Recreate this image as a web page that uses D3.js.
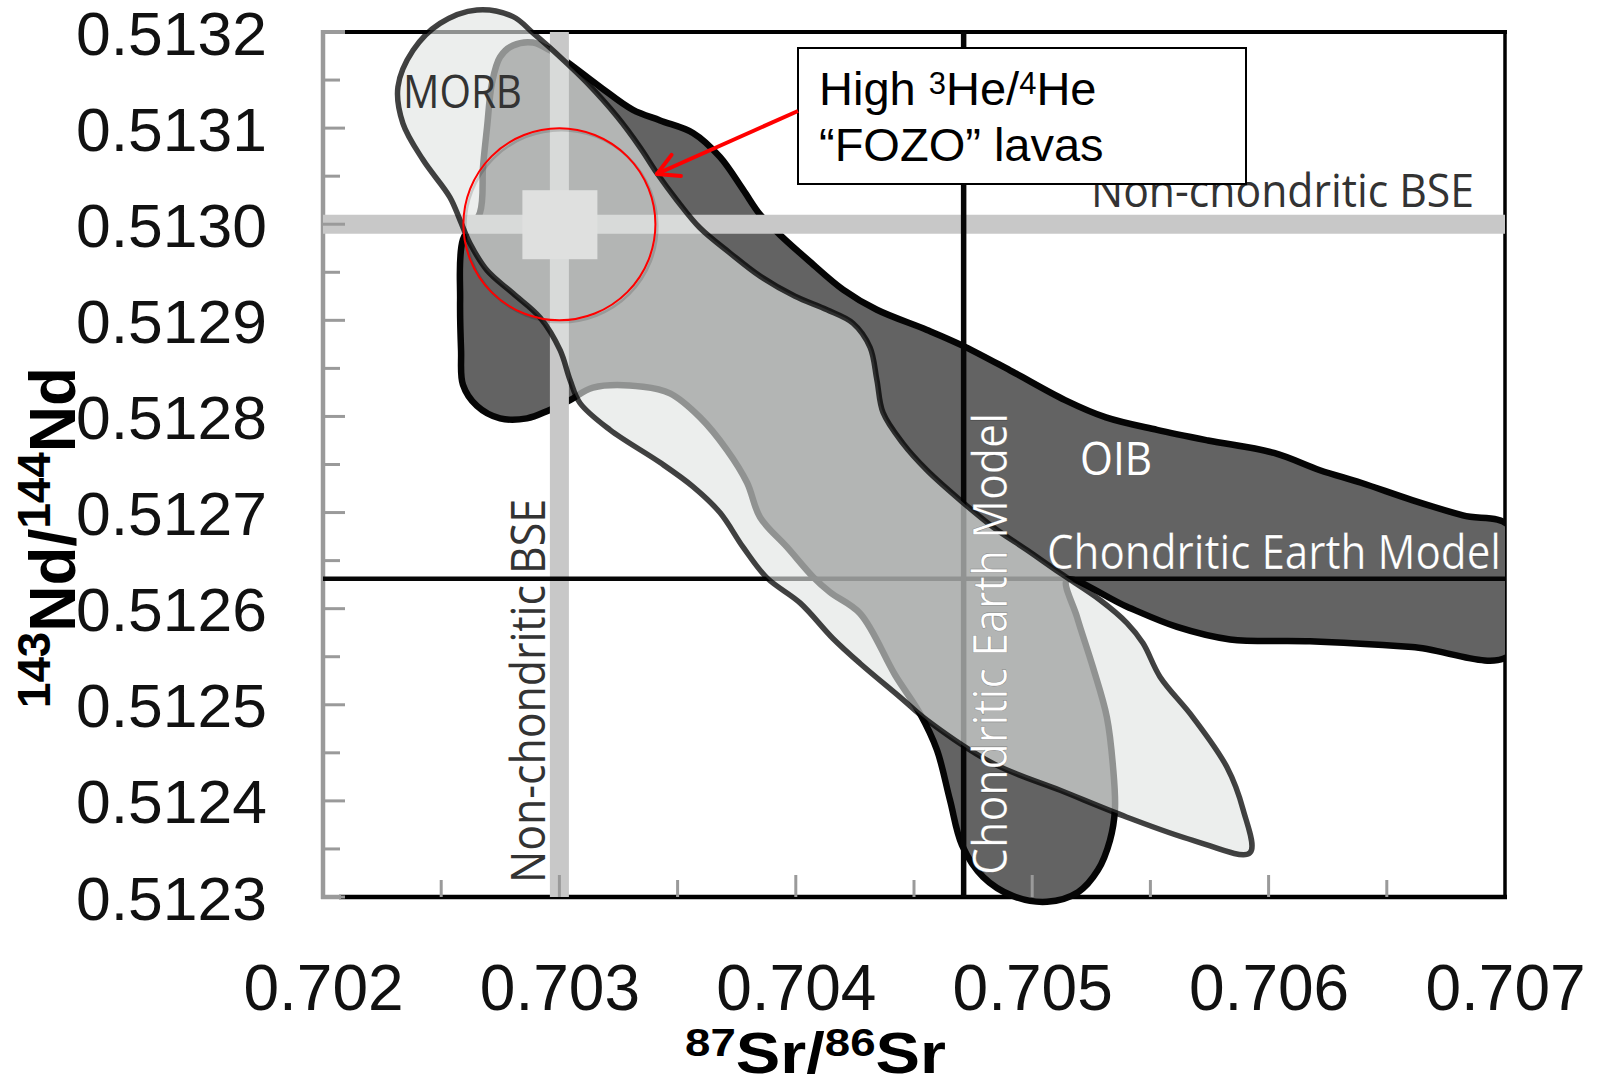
<!DOCTYPE html>
<html><head><meta charset="utf-8">
<script src="https://cdn.jsdelivr.net/npm/d3@7/dist/d3.min.js"></script>
<style>html,body{margin:0;padding:0;background:#fff;}svg{display:block;}</style>
</head><body>
<svg id="chart" width="1599" height="1084"></svg>
<script>
// ---------- data ----------
const xTicks = [0.702, 0.703, 0.704, 0.705, 0.706, 0.707];
const xMinorTicks = [0.7025, 0.7035, 0.7045, 0.7055, 0.7065];
const yTicks = [0.5123, 0.5124, 0.5125, 0.5126, 0.5127, 0.5128, 0.5129, 0.5130, 0.5131, 0.5132];
const yMinorTicks = [0.51235, 0.51245, 0.51255, 0.51265, 0.51275, 0.51285, 0.51295, 0.51305, 0.51315];

// reference values
const nonChondriticBSE = [0.703, 0.5130];   // [Sr, Nd]
const chondriticEarth = [0.70471, 0.512631]; // [Sr, Nd]
const fozo = [0.703, 0.5130];

// OIB field outline [87Sr/86Sr, 143Nd/144Nd]
const oibField = [
[0.702804,0.513186],[0.702888,0.513189],[0.702960,0.513181],[0.703032,0.513169],
[0.703172,0.513143],[0.703311,0.513119],[0.703426,0.513108],[0.703565,0.513095],
[0.703679,0.513070],[0.703777,0.513036],[0.703849,0.513010],[0.703933,0.512989],
[0.704060,0.512961],[0.704200,0.512932],[0.704343,0.512911],[0.704555,0.512890],
[0.704703,0.512874],[0.704906,0.512848],[0.705139,0.512817],[0.705312,0.512799],
[0.705528,0.512786],[0.705744,0.512775],[0.706023,0.512762],[0.706217,0.512744],
[0.706391,0.512731],[0.706607,0.512713],[0.706822,0.512697],[0.707021,0.512685],
[0.707021,0.512552],[0.706607,0.512560],[0.706175,0.512566],[0.705837,0.512568],
[0.705613,0.512581],[0.705401,0.512602],[0.705147,0.512630],[0.705190,0.512591],
[0.705257,0.512539],[0.705316,0.512487],[0.705342,0.512435],[0.705350,0.512391],
[0.705329,0.512359],[0.705278,0.512328],[0.705194,0.512305],[0.705063,0.512295],
[0.704919,0.512301],[0.704792,0.512321],[0.704703,0.512354],[0.704652,0.512401],
[0.704597,0.512453],[0.704525,0.512491],[0.704420,0.512531],[0.704272,0.512595],
[0.704145,0.512617],[0.704073,0.512633],[0.703963,0.512664],[0.703849,0.512695],
[0.703794,0.512731],[0.703709,0.512765],[0.703595,0.512799],[0.703468,0.512824],
[0.703354,0.512831],[0.703142,0.512830],[0.703045,0.512817],[0.702952,0.512806],
[0.702863,0.512798],[0.702749,0.512798],[0.702651,0.512811],[0.702592,0.512833],
[0.702584,0.512869],[0.702580,0.512921],[0.702592,0.512984],[0.702664,0.513012],
[0.702677,0.513060],[0.702694,0.513101],[0.702715,0.513147],[0.702749,0.513174]
];

// MORB field outline
const morbField = [
[0.702651,0.513223],[0.702804,0.513216],[0.702888,0.513199],[0.703003,0.513174],
[0.703117,0.513147],[0.703244,0.513112],[0.703341,0.513080],[0.703413,0.513053],
[0.703497,0.513025],[0.703595,0.512996],[0.703722,0.512970],[0.703849,0.512946],
[0.703997,0.512925],[0.704132,0.512911],[0.704242,0.512897],[0.704314,0.512872],
[0.704343,0.512838],[0.704369,0.512804],[0.704453,0.512772],[0.704555,0.512744],
[0.704695,0.512713],[0.704834,0.512685],[0.704978,0.512661],[0.705118,0.512637],
[0.705287,0.512609],[0.705401,0.512585],[0.705469,0.512564],[0.705541,0.512529],
[0.705680,0.512487],[0.705824,0.512435],[0.705892,0.512391],[0.705921,0.512346],
[0.705680,0.512359],[0.705401,0.512383],[0.705118,0.512411],[0.704834,0.512439],
[0.704555,0.512484],[0.704441,0.512508],[0.704272,0.512543],[0.704157,0.512569],
[0.704018,0.512606],[0.703878,0.512632],[0.703777,0.512664],[0.703679,0.512700],
[0.703565,0.512727],[0.703426,0.512752],[0.703214,0.512786],[0.703087,0.512814],
[0.703045,0.512838],[0.703003,0.512869],[0.702918,0.512903],[0.702804,0.512928],
[0.702694,0.512952],[0.702622,0.512980],[0.702580,0.513004],[0.702537,0.513028],
[0.702423,0.513067],[0.702338,0.513105],[0.702317,0.513143],[0.702381,0.513181],
[0.702495,0.513209]
];

// ---------- drawing ----------
const W = 1599, H = 1084;
const svg = d3.select('#chart');
const x = d3.scaleLinear().domain([xTicks[0], xTicks[xTicks.length-1]]).range([323, 1505]);
const y = d3.scaleLinear().domain([yTicks[0], yTicks[yTicks.length-1]]).range([897, 32]);
const X0 = x.range()[0], X1 = x.range()[1], YT = y.range()[1], YB = y.range()[0];
const axisGray = '#9a9a9a';
const tickFont = '"Liberation Sans", Arial, sans-serif';
const labelFont = '"Open Sans", "Noto Sans", sans-serif';

svg.append('defs').append('clipPath').attr('id', 'plotClip')
  .append('rect').attr('x', X0).attr('y', 0).attr('width', X1 - X0).attr('height', H);

// frame
const frame = svg.append('g');
frame.append('line').attr('x1', X0 + 20).attr('x2', X1 + 2).attr('y1', YT).attr('y2', YT)
  .attr('stroke', '#000').attr('stroke-width', 4);
frame.append('line').attr('x1', X0 - 2).attr('x2', X0 + 22).attr('y1', YT).attr('y2', YT)
  .attr('stroke', axisGray).attr('stroke-width', 4);
frame.append('line').attr('x1', X1).attr('x2', X1).attr('y1', YT).attr('y2', YB)
  .attr('stroke', '#000').attr('stroke-width', 3.5);
frame.append('line').attr('x1', X0 + 16).attr('x2', X1 + 2).attr('y1', YB).attr('y2', YB)
  .attr('stroke', '#000').attr('stroke-width', 4.5);
frame.append('line').attr('x1', X0 - 2).attr('x2', X0 + 18).attr('y1', YB).attr('y2', YB)
  .attr('stroke', axisGray).attr('stroke-width', 4.5);
frame.append('line').attr('x1', X0).attr('x2', X0).attr('y1', YT - 2).attr('y2', YB + 2)
  .attr('stroke', axisGray).attr('stroke-width', 4.5);

const field = d3.line().x(d => x(d[0])).y(d => y(d[1])).curve(d3.curveCatmullRomClosed.alpha(0.5));

// OIB field
svg.append('path').datum(oibField).attr('d', field)
  .attr('fill', '#636363').attr('stroke', '#050505').attr('stroke-width', 6.5)
  .attr('stroke-linejoin', 'round').attr('clip-path', 'url(#plotClip)');

// Non-chondritic BSE bands
svg.append('line').attr('x1', X0).attr('x2', X1)
  .attr('y1', y(nonChondriticBSE[1])).attr('y2', y(nonChondriticBSE[1]))
  .attr('stroke', '#c8c8c8').attr('stroke-width', 19);
svg.append('line').attr('x1', x(nonChondriticBSE[0])).attr('x2', x(nonChondriticBSE[0]))
  .attr('y1', YT).attr('y2', YB)
  .attr('stroke', '#c8c8c8').attr('stroke-width', 19);

// Chondritic Earth model lines
svg.append('line').attr('x1', X0).attr('x2', X1)
  .attr('y1', y(chondriticEarth[1])).attr('y2', y(chondriticEarth[1]))
  .attr('stroke', '#060606').attr('stroke-width', 4.5);
svg.append('line').attr('x1', x(chondriticEarth[0])).attr('x2', x(chondriticEarth[0]))
  .attr('y1', YT).attr('y2', YB)
  .attr('stroke', '#060606').attr('stroke-width', 5.5);

// inward ticks
const ticks = svg.append('g').attr('stroke', axisGray).attr('stroke-width', 3);
yTicks.forEach(v => ticks.append('line').attr('x1', X0).attr('x2', X0 + 22).attr('y1', y(v)).attr('y2', y(v)));
yMinorTicks.forEach(v => ticks.append('line').attr('x1', X0).attr('x2', X0 + 17).attr('y1', y(v)).attr('y2', y(v)));
xTicks.slice(1, -1).forEach(v => ticks.append('line').attr('x1', x(v)).attr('x2', x(v)).attr('y1', YB).attr('y2', YB - 22));
xMinorTicks.forEach(v => ticks.append('line').attr('x1', x(v)).attr('x2', x(v)).attr('y1', YB).attr('y2', YB - 17));

// MORB field (translucent)
svg.append('path').datum(morbField).attr('d', field)
  .attr('fill', 'rgb(225,228,227)').attr('fill-opacity', 0.635)
  .attr('stroke', '#000').attr('stroke-opacity', 0.74).attr('stroke-width', 5.5)
  .attr('stroke-linejoin', 'round');

// FOZO cross + circle
const fx = x(fozo[0]), fy = y(fozo[1]);
svg.append('rect').attr('x', fx - 37).attr('y', fy - 34).attr('width', 75).attr('height', 69)
  .attr('fill', '#dfe0df');
svg.append('circle').attr('cx', fx + 2).attr('cy', fy + 2).attr('r', 96)
  .attr('fill', 'none').attr('stroke', 'rgba(0,0,0,0.15)').attr('stroke-width', 2.5);
svg.append('circle').attr('cx', fx).attr('cy', fy).attr('r', 96)
  .attr('fill', 'none').attr('stroke', '#ff0000').attr('stroke-width', 2);

// field / line labels
const lab = svg.append('g').attr('font-family', labelFont);
lab.append('text').attr('x', 403).attr('y', 108).attr('font-size', 46)
  .attr('textLength', 119).attr('lengthAdjust', 'spacingAndGlyphs')
  .attr('fill', '#333').text('MORB');
lab.append('text').attr('x', 1080).attr('y', 475).attr('font-size', 46)
  .attr('textLength', 72).attr('lengthAdjust', 'spacingAndGlyphs')
  .attr('fill', '#fff').text('OIB');
lab.append('text').attr('x', 1047).attr('y', y(chondriticEarth[1]) - 10).attr('font-size', 48)
  .attr('textLength', 454).attr('lengthAdjust', 'spacingAndGlyphs')
  .attr('fill', '#fff').attr('stroke', 'rgba(0,0,0,0.3)').attr('stroke-width', 0.7)
  .text('Chondritic Earth Model');
lab.append('text').attr('transform', `translate(${x(chondriticEarth[0]) + 43},875) rotate(-90)`)
  .attr('font-size', 48).attr('textLength', 462).attr('lengthAdjust', 'spacingAndGlyphs')
  .attr('fill', '#fff').attr('stroke', 'rgba(0,0,0,0.3)').attr('stroke-width', 0.7)
  .text('Chondritic Earth Model');
lab.append('text').attr('transform', `translate(${x(nonChondriticBSE[0]) - 14},883) rotate(-90)`)
  .attr('font-size', 48).attr('textLength', 384).attr('lengthAdjust', 'spacingAndGlyphs')
  .attr('fill', '#333').text('Non-chondritic BSE');
lab.append('text').attr('x', 1091).attr('y', y(nonChondriticBSE[1]) - 17).attr('font-size', 46)
  .attr('textLength', 383).attr('lengthAdjust', 'spacingAndGlyphs')
  .attr('fill', '#333').text('Non-chondritic BSE');

// annotation box + arrow
const box = svg.append('g');
box.append('rect').attr('x', 798).attr('y', 48).attr('width', 448).attr('height', 136)
  .attr('fill', '#fff').attr('stroke', '#000').attr('stroke-width', 2);
const t1 = box.append('text').attr('x', 819).attr('y', 105).attr('font-family', tickFont)
  .attr('font-size', 47).attr('fill', '#000');
t1.append('tspan').text('High ');
t1.append('tspan').attr('font-size', 31).attr('dy', -11).text('3');
t1.append('tspan').attr('dy', 11).text('He/');
t1.append('tspan').attr('font-size', 31).attr('dy', -11).text('4');
t1.append('tspan').attr('dy', 11).text('He');
box.append('text').attr('x', 819).attr('y', 161).attr('font-family', tickFont)
  .attr('font-size', 47).attr('fill', '#000').text('\u201cFOZO\u201d lavas');

const ax0 = 798, ay0 = 111, ax1 = 657, ay1 = 174;
box.append('line').attr('x1', ax0).attr('y1', ay0).attr('x2', ax1 + 3).attr('y2', ay1 - 1.5)
  .attr('stroke', '#ff0000').attr('stroke-width', 4);
const ang = Math.atan2(ay0 - ay1, ax0 - ax1);
[-0.5, 0.5].forEach(s => {
  box.append('line').attr('x1', ax1).attr('y1', ay1)
    .attr('x2', ax1 + 24 * Math.cos(ang + s)).attr('y2', ay1 + 24 * Math.sin(ang + s))
    .attr('stroke', '#ff0000').attr('stroke-width', 4).attr('stroke-linecap', 'round');
});

// tick labels via d3 axes
const yAxis = svg.append('g').attr('transform', `translate(${X0},0)`)
  .call(d3.axisLeft(y).tickValues(yTicks).tickFormat(d3.format('.4f')).tickSize(0).tickPadding(56));
yAxis.select('.domain').remove();
yAxis.selectAll('text').attr('font-family', tickFont).attr('font-size', 61)
  .attr('fill', '#111').attr('dy', null).attr('y', 22)
  .attr('textLength', 191).attr('lengthAdjust', 'spacingAndGlyphs');

const xAxis = svg.append('g').attr('transform', `translate(0,${YB})`)
  .call(d3.axisBottom(x).tickValues(xTicks).tickFormat(d3.format('.3f')).tickSize(0).tickPadding(0));
xAxis.select('.domain').remove();
xAxis.selectAll('text').attr('font-family', tickFont).attr('font-size', 64)
  .attr('fill', '#111').attr('dy', null).attr('y', 113);

// axis titles: pieces laid out then stretched to the reference width
function titlePieces(g, pieces) {
  let cx = 0;
  pieces.forEach(p => {
    const t = g.append('text').attr('x', cx).attr('y', p.sup ? -p.shift : 0)
      .attr('font-family', tickFont).attr('font-weight', 'bold')
      .attr('font-size', p.size).attr('fill', '#000').text(p.text);
    cx += t.node().getComputedTextLength();
  });
  return cx;
}
const xtG = svg.append('g');
const xtW = titlePieces(xtG, [
  {text: '87', size: 39, sup: true, shift: 17}, {text: 'Sr/', size: 57},
  {text: '86', size: 39, sup: true, shift: 17}, {text: 'Sr', size: 57}
]);
xtG.attr('transform', `translate(685,1073) scale(${261 / xtW},1)`);

const ytG = svg.append('g');
const ytW = titlePieces(ytG, [
  {text: '143', size: 40, sup: true, shift: 22}, {text: 'Nd/', size: 56},
  {text: '144', size: 40, sup: true, shift: 22}, {text: 'Nd', size: 56}
]);
ytG.attr('transform', `translate(75,708) rotate(-90) scale(${341 / ytW},1.15)`);
</script>
</body></html>
